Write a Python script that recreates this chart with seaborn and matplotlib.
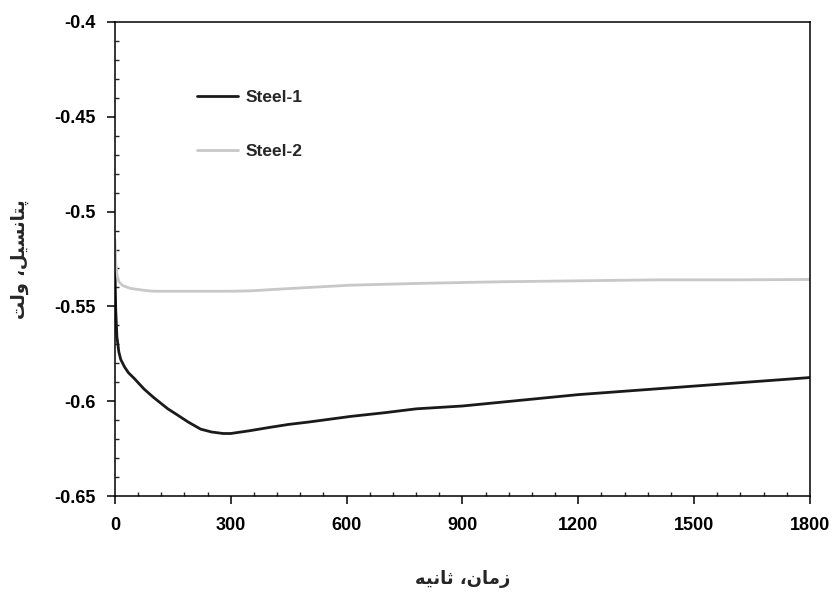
import numpy as np
import pandas as pd
import matplotlib
matplotlib.use('Agg')
import matplotlib.pyplot as plt
import seaborn as sns
from matplotlib.ticker import MultipleLocator

# Steel-1 (black)
t1 = [0, 2, 5, 10, 15, 25, 35, 50, 75, 100, 137, 160, 190, 222, 250, 280, 300,
      350, 400, 450, 500, 610, 700, 780, 900, 1000, 1100, 1200, 1300, 1400,
      1500, 1600, 1700, 1800]
v1 = [-0.532, -0.552, -0.566, -0.574, -0.578, -0.582, -0.585, -0.588, -0.5935,
      -0.598, -0.604, -0.607, -0.611, -0.6147, -0.6162, -0.617, -0.617,
      -0.6155, -0.6138, -0.6122, -0.611, -0.608, -0.606, -0.604, -0.6025,
      -0.6005, -0.5985, -0.5965, -0.595, -0.5935, -0.592, -0.5905, -0.589, -0.5875]

# Steel-2 (grey)
t2 = [0, 2, 5, 10, 20, 40, 75, 100, 200, 300, 350, 440, 610, 800, 1000, 1200,
      1400, 1600, 1800]
v2 = [-0.515, -0.527, -0.533, -0.537, -0.539, -0.5405, -0.5415, -0.542, -0.542,
      -0.542, -0.5418, -0.5407, -0.5388, -0.5378, -0.537, -0.5365, -0.536,
      -0.536, -0.5358]

series_names = ['Steel-1', 'Steel-2']
series_colors = ['#1a1a1a', '#c8c8c8']


def shape_rtl(chars):
    # presentation forms in logical order -> visual order
    return ''.join(reversed(chars))


# زمان، ثانیه
xlabel = shape_rtl(['\uFEAF', '\uFEE3', '\uFE8E', '\uFEE5', '\u060C', ' ',
                    '\uFE9B', '\uFE8E', '\uFEE7', '\uFBFF', '\uFEEA'])
# پتانسیل، ولت
ylabel = shape_rtl(['\uFB58', '\uFE98', '\uFE8E', '\uFEE7', '\uFEB4', '\uFBFF',
                    '\uFEDE', '\u060C', ' ', '\uFEED', '\uFEDF', '\uFE96'])

df = pd.concat([
    pd.DataFrame({'t': t1, 'v': v1, 'series': series_names[0]}),
    pd.DataFrame({'t': t2, 'v': v2, 'series': series_names[1]}),
])

sns.set_style('ticks')
plt.rcParams['font.family'] = ['Liberation Sans', 'DejaVu Sans']

fig = plt.figure(figsize=(8.35, 5.92), dpi=100)
ax = fig.add_axes([0.1377, 0.162, 0.8323, 0.801])

sns.lineplot(data=df, x='t', y='v', hue='series', palette=series_colors,
             linewidth=2.0, ax=ax, sort=False)

ax.set_xlim(0, 1800)
ax.set_ylim(-0.65, -0.4)
ax.xaxis.set_major_locator(MultipleLocator(300))
ax.xaxis.set_minor_locator(MultipleLocator(60))
ax.yaxis.set_minor_locator(MultipleLocator(0.01))
ax.set_yticks(np.arange(-0.65, -0.399, 0.05))
ax.set_yticklabels(['-0.65', '-0.6', '-0.55', '-0.5', '-0.45', '-0.4'])

ax.tick_params(which='major', direction='out', length=6, width=1.1,
               labelsize=13, colors='black')
ax.tick_params(axis='y', which='major', pad=8)
ax.tick_params(axis='x', which='major', pad=9)
ax.tick_params(which='minor', direction='in', length=3, width=1.0)
for lab in ax.get_xticklabels() + ax.get_yticklabels():
    lab.set_fontweight('bold')

for sp in ax.spines.values():
    sp.set_visible(True)
    sp.set_linewidth(1.1)
    sp.set_color('black')

ax.set_xlabel(xlabel, family=['DejaVu Sans'], fontsize=13, fontweight='bold',
              labelpad=26)
ax.set_ylabel(ylabel, family=['DejaVu Sans'], fontsize=13, fontweight='bold',
              labelpad=18)

ax.legend(loc='upper left', bbox_to_anchor=(0.095, 0.89), frameon=False,
          prop={'family': 'Liberation Sans', 'weight': 'bold', 'size': 12.5},
          handlelength=2.4, handletextpad=0.4, labelspacing=2.25)

fig.savefig('out.png', dpi=100)
